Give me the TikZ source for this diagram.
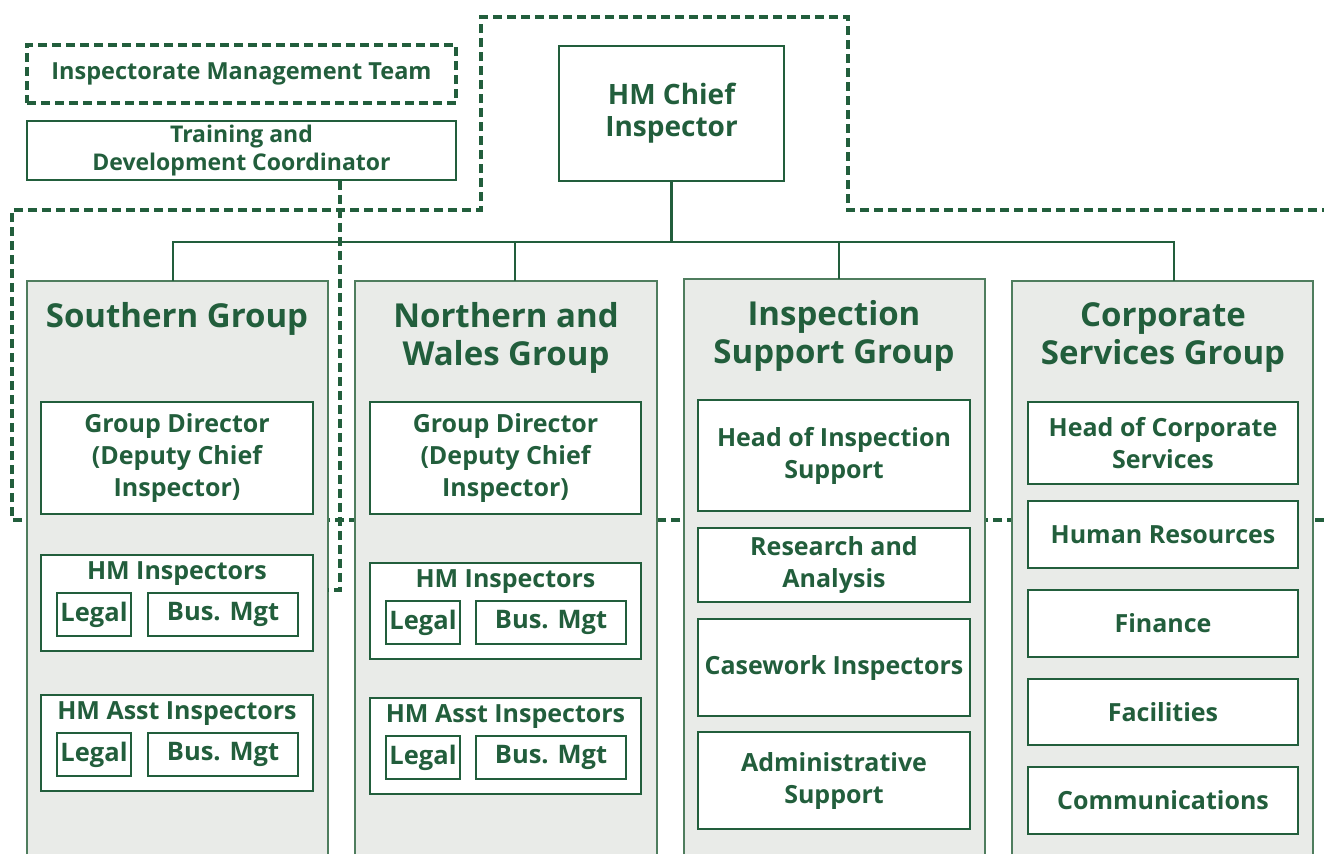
\documentclass[tikz,border=0pt]{standalone}
\usepackage{fontspec}
\setmainfont{Open Sans}
\definecolor{dg}{HTML}{225E3C}
\definecolor{colfill}{HTML}{E9EBE8}
\definecolor{colline}{HTML}{4F7D5E}
\tikzset{
  dashline/.style={draw=dg, line width=3.1pt, dash pattern=on 9pt off 5pt},
  conn/.style={draw=dg, line width=2.5pt},
  colbg/.style={fill=colfill, draw=none, inner sep=0pt},
  colborder/.style={draw=colline, line width=1.5pt},
  box/.style={draw=dg, line width=1.8pt, fill=white, inner sep=0pt, text=dg, align=center,
    font=\fontsize{25}{32}\selectfont\bfseries},
  smallbox/.style={draw=dg, line width=1.5pt, fill=white, inner sep=0pt, text=dg, align=center,
    font=\fontsize{25.5}{32}\selectfont\bfseries},
  lbl/.style={text=dg, align=center, inner sep=0pt, font=\fontsize{25}{32}\selectfont\bfseries},
  title/.style={text=dg, align=center, inner sep=0pt, font=\fontsize{33}{38}\selectfont\bfseries},
}
\begin{document}
\begin{tikzpicture}[x=1pt,y=-1pt]
\useasboundingbox (0,0) rectangle (1324,854);
\fill[white] (0,0) rectangle (1324,854);

% dashed management region
\draw[dashline] (1324,520) -- (12,520) -- (12,210) -- (481,210) -- (481,17) -- (848,17) -- (848,210) -- (1324,210);

% top boxes
\node[box, dashline, minimum width=429pt, minimum height=58pt,
  font=\fontsize{23.5}{28}\selectfont\bfseries] (imt) at (241.5,74) {Inspectorate Management Team};
\node[box, minimum width=429pt, minimum height=59pt,
  font=\fontsize{23}{28}\selectfont\bfseries] (tdc) at (241.5,150.5) {Training and\\Development Coordinator};
\node[box, line width=2.5pt, minimum width=225pt, minimum height=135pt,
  font=\fontsize{28}{32}\selectfont\bfseries] (chief) at (671.5,113.5) {HM Chief\\Inspector};

% columns
\node[colbg, minimum width=301pt, minimum height=573pt] (sg) at (177.5,567.5) {};
\node[colbg, minimum width=302pt, minimum height=573pt] (ng) at (506,567.5) {};
\node[colbg, minimum width=301pt, minimum height=575pt] (is) at (834.5,566.5) {};
\node[colbg, minimum width=301pt, minimum height=573pt] (cs) at (1162.5,567.5) {};
\foreach \c in {sg,ng,is,cs}{
  \draw[colborder] (\c.south west) |- (\c.north east) -- (\c.south east);
}

% org connectors
\coordinate (bus) at (670,242);
\coordinate (sgdrop) at ([xshift=-4.5pt]sg.north);
\coordinate (ngdrop) at ([xshift=9pt]ng.north);
\coordinate (isdrop) at ([xshift=4.5pt]is.north);
\coordinate (csdrop) at ([xshift=11.5pt]cs.north);
\draw[conn] (chief.south) -- (chief.south |- bus);
\draw[conn] (sgdrop) -- (sgdrop |- bus) -- (csdrop |- bus) -- (csdrop);
\draw[conn] (ngdrop) -- (ngdrop |- bus);
\draw[conn] (isdrop) -- (isdrop |- bus);

% training coordinator dashed link
\coordinate (tdcend) at (340,590);
\draw[dashline] (tdc.south -| tdcend) -- (tdcend) -- (tdcend -| sg.east);

% column titles
\node[title] (sgt) at (177,319) {Southern Group};
\node[title] (ngt) at (506,338) {Northern and\\Wales Group};
\node[title] (ist) at (834,336) {Inspection\\Support Group};
\node[title] (cst) at (1163,338) {Corporate\\Services Group};

% Southern Group
\node[box, minimum width=272pt, minimum height=112pt] (sgd) at (177,458) {Group Director\\(Deputy Chief\\Inspector)};
\node[box, minimum width=272pt, minimum height=96pt] (sgi) at (177,603) {};
\node[lbl] (sgit) at (177,574) {HM Inspectors};
\node[smallbox, minimum width=74pt, minimum height=43pt] (sgil) at (94,614.5) {Legal};
\node[smallbox, minimum width=150pt, minimum height=43pt] (sgib) at (223,614.5) {Bus. Mgt};
\node[box, minimum width=272pt, minimum height=96pt] (sga) at (177,743) {};
\node[lbl] (sgat) at (177,714) {HM Asst Inspectors};
\node[smallbox, minimum width=74pt, minimum height=43pt] (sgal) at (94,754.5) {Legal};
\node[smallbox, minimum width=150pt, minimum height=43pt] (sgab) at (223,754.5) {Bus. Mgt};

% Northern and Wales Group
\node[box, minimum width=271pt, minimum height=112pt] (ngd) at (505.5,458) {Group Director\\(Deputy Chief\\Inspector)};
\node[box, minimum width=271pt, minimum height=96pt] (ngi) at (505.5,611) {};
\node[lbl] (ngit) at (505.5,582) {HM Inspectors};
\node[smallbox, minimum width=74pt, minimum height=43pt] (ngil) at (423,622.5) {Legal};
\node[smallbox, minimum width=150pt, minimum height=43pt] (ngib) at (551,622.5) {Bus. Mgt};
\node[box, minimum width=271pt, minimum height=96pt] (nga) at (505.5,746) {};
\node[lbl] (ngat) at (505.5,717) {HM Asst Inspectors};
\node[smallbox, minimum width=74pt, minimum height=43pt] (ngal) at (423,757.5) {Legal};
\node[smallbox, minimum width=150pt, minimum height=43pt] (ngab) at (551,757.5) {Bus. Mgt};

% Inspection Support Group
\node[box, minimum width=272pt, minimum height=111pt] (ish) at (834,455.5) {Head of Inspection\\Support};
\node[box, minimum width=272pt, minimum height=74pt] (isr) at (834,565) {Research and\\Analysis};
\node[box, minimum width=272pt, minimum height=97pt] (isc) at (834,667.5) {Casework Inspectors};
\node[box, minimum width=272pt, minimum height=97pt] (isa) at (834,780.5) {Administrative\\Support};

% Corporate Services Group
\node[box, minimum width=270pt, minimum height=82pt] (csh) at (1163,443) {Head of Corporate\\Services};
\node[box, minimum width=270pt, minimum height=67pt] (cshr) at (1163,534.5) {Human Resources};
\node[box, minimum width=270pt, minimum height=67pt] (csf) at (1163,623.5) {Finance};
\node[box, minimum width=270pt, minimum height=66pt] (csfa) at (1163,712) {Facilities};
\node[box, minimum width=270pt, minimum height=67pt] (csc) at (1163,800.5) {Communications};
\end{tikzpicture}
\end{document}
